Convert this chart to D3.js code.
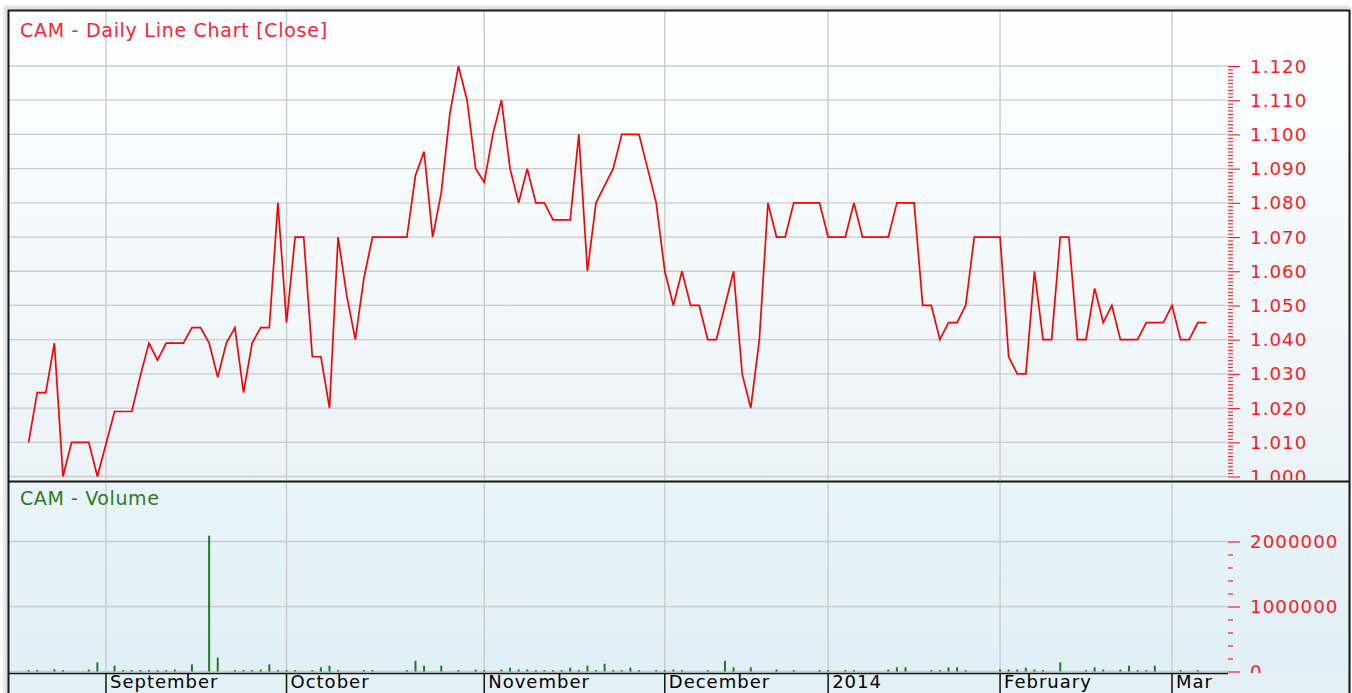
<!DOCTYPE html>
<html><head><meta charset="utf-8">
<script src="https://cdn.jsdelivr.net/npm/d3@7"></script>
<style>
html,body{margin:0;padding:0;background:#ffffff;}
svg{display:block;}
</style>
</head>
<body>
<svg id="chart" width="1352" height="693"></svg>
<script>
// ---------- DATA ----------
const closeValues = [
  1.010, 1.0245, 1.0245, 1.039, 1.000, 1.010, 1.010, 1.010, 1.000, 1.0095,
  1.019, 1.019, 1.019, 1.0295, 1.039, 1.034, 1.039, 1.039, 1.039, 1.0435,
  1.0435, 1.039, 1.029, 1.039, 1.0435, 1.0245, 1.039, 1.0435, 1.0435, 1.080,
  1.045, 1.070, 1.070, 1.035, 1.035, 1.020, 1.070, 1.053, 1.040, 1.058,
  1.070, 1.070, 1.070, 1.070, 1.070, 1.088, 1.095, 1.070, 1.083, 1.106,
  1.120, 1.110, 1.090, 1.086, 1.100, 1.110, 1.090, 1.080, 1.090, 1.080,
  1.080, 1.075, 1.075, 1.075, 1.100, 1.060, 1.080, 1.085, 1.090, 1.100,
  1.100, 1.100, 1.090, 1.080, 1.060, 1.050, 1.060, 1.050, 1.050, 1.040,
  1.040, 1.050, 1.060, 1.030, 1.020, 1.040, 1.080, 1.070, 1.070, 1.080,
  1.080, 1.080, 1.080, 1.070, 1.070, 1.070, 1.080, 1.070, 1.070, 1.070,
  1.070, 1.080, 1.080, 1.080, 1.050, 1.050, 1.040, 1.045, 1.045, 1.050,
  1.070, 1.070, 1.070, 1.070, 1.035, 1.030, 1.030, 1.060, 1.040, 1.040,
  1.070, 1.070, 1.040, 1.040, 1.055, 1.045, 1.050, 1.040, 1.040, 1.040,
  1.045, 1.045, 1.045, 1.050, 1.040, 1.040, 1.045, 1.045
];
const volumeValues = [
  20000, 20000, 0, 35000, 20000, 0, 0, 30000, 140000, 0,
  90000, 20000, 20000, 20000, 20000, 20000, 20000, 30000, 0, 110000,
  0, 2090000, 215000, 0, 20000, 20000, 20000, 30000, 110000, 20000,
  20000, 20000, 0, 20000, 65000, 90000, 20000, 0, 0, 20000,
  20000, 0, 0, 0, 20000, 165000, 90000, 0, 90000, 0,
  20000, 0, 30000, 20000, 0, 30000, 60000, 30000, 30000, 20000,
  20000, 20000, 20000, 60000, 20000, 90000, 20000, 120000, 20000, 20000,
  60000, 20000, 0, 20000, 20000, 30000, 20000, 0, 0, 20000,
  0, 165000, 65000, 0, 65000, 0, 0, 30000, 0, 20000,
  0, 0, 20000, 20000, 0, 20000, 20000, 0, 0, 0,
  30000, 65000, 65000, 0, 0, 20000, 20000, 65000, 65000, 20000,
  0, 0, 0, 30000, 30000, 30000, 60000, 30000, 20000, 0,
  140000, 0, 0, 20000, 65000, 30000, 0, 30000, 90000, 20000,
  20000, 90000, 0, 0, 20000, 0, 20000, 0
];
const monthLabels = ["September", "October", "November", "December", "2014", "February", "Mar"];
const monthStartIndex = [9, 30, 53, 74, 93, 113, 133];
const priceTickLabels = ["1.000","1.010","1.020","1.030","1.040","1.050","1.060","1.070","1.080","1.090","1.100","1.110","1.120"];
const volumeTickLabels = ["0", "1000000", "2000000"];
const priceTitle = "CAM - Daily Line Chart [Close]";
const volumeTitle = "CAM - Volume";

// ---------- LAYOUT ----------
const L = 9, R = 1349, plotR = 1228;
const pTop = 11, pBot = 481, vTop = 483, vBot = 673, H = 693;
const gridColor = "#cbcbcb";
const axisRed = "#ff1a1a";

const svg = d3.select("#chart");
const defs = svg.append("defs");
const gP = defs.append("linearGradient").attr("id","gPrice").attr("x1",0).attr("x2",0).attr("y1",0).attr("y2",1);
gP.append("stop").attr("offset","0%").attr("stop-color","#ffffff");
gP.append("stop").attr("offset","100%").attr("stop-color","#eaf3f8");
const gV = defs.append("linearGradient").attr("id","gVol").attr("x1",0).attr("x2",0).attr("y1",0).attr("y2",1);
gV.append("stop").attr("offset","0%").attr("stop-color","#e8f4f9");
gV.append("stop").attr("offset","100%").attr("stop-color","#e0f0f6");
defs.append("clipPath").attr("id","clipP").append("rect").attr("x",L).attr("y",pTop).attr("width",R-L).attr("height",pBot-pTop-1);
defs.append("clipPath").attr("id","clipV").append("rect").attr("x",L).attr("y",vTop).attr("width",R-L).attr("height",vBot-vTop);

// shadow
svg.append("rect").attr("x",3).attr("y",5).attr("width",R-3).attr("height",H).attr("fill","#ececec");
svg.append("rect").attr("x",5).attr("y",7).attr("width",R-3).attr("height",H).attr("fill","#dedede");

// backgrounds
svg.append("rect").attr("x",L).attr("y",pTop).attr("width",R-L).attr("height",pBot-pTop).attr("fill","url(#gPrice)");
svg.append("rect").attr("x",L).attr("y",vTop).attr("width",R-L).attr("height",vBot-vTop).attr("fill","url(#gVol)");
svg.append("rect").attr("x",L).attr("y",vBot).attr("width",R-L).attr("height",H-vBot).attr("fill","#e3f1f7");

// ---------- SCALES ----------
const x = d3.scaleLinear().domain([0, closeValues.length - 1]).range([28.6, 1206.4]);
const yP = d3.scaleLinear().domain([1.0, 1.12]).range([476.5, 66]);
const yV = d3.scaleLinear().domain([0, 2000000]).range([671.5, 541.5]);

// ---------- PRICE PANEL ----------
const pp = svg.append("g").attr("clip-path","url(#clipP)");
const priceMajor = priceTickLabels.map(Number);
pp.selectAll("line.hg").data(priceMajor).join("line")
  .attr("x1",L).attr("x2",plotR).attr("y1",d=>yP(d)).attr("y2",d=>yP(d))
  .attr("stroke",gridColor).attr("stroke-width",1.3);
pp.selectAll("line.vg").data(monthStartIndex).join("line")
  .attr("x1",d=>x(d)).attr("x2",d=>x(d)).attr("y1",pTop).attr("y2",pBot)
  .attr("stroke",gridColor).attr("stroke-width",1.4);

pp.append("path").datum(closeValues)
  .attr("d", d3.line().x((d,i)=>x(i)).y(d=>yP(d)))
  .attr("fill","none").attr("stroke","#ff0000").attr("stroke-width",1.7).attr("stroke-linejoin","miter");

// price axis (right)
const pAxis = d3.axisRight(yP)
  .tickValues(d3.range(1000, 1121).map(v=>v/1000))
  .tickSize(5).tickFormat("");
const pAxG = pp.append("g").attr("transform",`translate(${plotR},0)`).call(pAxis);
pAxG.select(".domain").remove();
pAxG.selectAll(".tick line").attr("stroke",axisRed).attr("stroke-width",1.1)
  .attr("x2", d => (Math.round(d*1000) % 10 === 0) ? 12 : 5);
pp.selectAll("text.pl").data(priceTickLabels).join("text")
  .attr("x",1250).attr("y",d=>yP(+d)).attr("dy","0.36em")
  .attr("fill",axisRed).attr("font-family","DejaVu Sans, Verdana, sans-serif")
  .attr("font-size",18.3).attr("letter-spacing","1px").text(d=>d);

svg.append("text").attr("x",20).attr("y",36.5).attr("fill","#ff2233")
  .attr("font-family","DejaVu Sans, Verdana, sans-serif").attr("font-size",19)
  .attr("letter-spacing","0.72px").text(priceTitle);

// ---------- VOLUME PANEL ----------
const vp = svg.append("g").attr("clip-path","url(#clipV)");
vp.selectAll("line.hg").data(volumeTickLabels.map(Number)).join("line")
  .attr("x1",L).attr("x2",plotR).attr("y1",d=>yV(d)).attr("y2",d=>yV(d))
  .attr("stroke",gridColor).attr("stroke-width",1.3);
vp.selectAll("line.vg").data(monthStartIndex).join("line")
  .attr("x1",d=>x(d)).attr("x2",d=>x(d)).attr("y1",vTop).attr("y2",vBot)
  .attr("stroke",gridColor).attr("stroke-width",1.4);

vp.selectAll("rect.bar").data(volumeValues).join("rect")
  .attr("x",(d,i)=>x(i)-1).attr("width",2)
  .attr("y",d=>yV(d)).attr("height",d=>yV(0)-yV(d))
  .attr("fill","#1f7d1f");

const vAxis = d3.axisRight(yV).tickValues(d3.range(0, 2000001, 200000)).tickSize(5).tickFormat("");
const vAxG = vp.append("g").attr("transform",`translate(${plotR},0)`).call(vAxis);
vAxG.select(".domain").remove();
vAxG.selectAll(".tick line").attr("stroke",axisRed).attr("stroke-width",1.2)
  .attr("x2", d => (d % 1000000 === 0) ? 12 : 5);
vp.selectAll("text.vl").data(volumeTickLabels).join("text")
  .attr("x",1250).attr("y",d=>yV(+d)).attr("dy","0.36em")
  .attr("fill",axisRed).attr("font-family","DejaVu Sans, Verdana, sans-serif")
  .attr("font-size",18.3).attr("letter-spacing","1px").text(d=>d);

svg.append("text").attr("x",20).attr("y",505).attr("fill","#2c7a22")
  .attr("font-family","DejaVu Sans, Verdana, sans-serif").attr("font-size",19)
  .attr("letter-spacing","0.6px").text(volumeTitle);

// ---------- TIME AXIS ----------
svg.append("line").attr("x1",L).attr("x2",plotR).attr("y1",vBot+0.5).attr("y2",vBot+0.5)
  .attr("stroke","#111").attr("stroke-width",1.5);
svg.selectAll("line.ms").data(monthStartIndex).join("line")
  .attr("x1",d=>x(d)).attr("x2",d=>x(d)).attr("y1",vBot).attr("y2",H)
  .attr("stroke","#111").attr("stroke-width",1.5);
svg.selectAll("text.ml").data(monthLabels).join("text")
  .attr("x",(d,i)=>x(monthStartIndex[i])+4).attr("y",688.4)
  .attr("fill","#000").attr("font-family","DejaVu Sans, Verdana, sans-serif")
  .attr("font-size",18).attr("letter-spacing","1px").text(d=>d);

// ---------- BORDERS ----------
svg.append("line").attr("x1",L-0.5).attr("x2",L-0.5).attr("y1",pTop-1).attr("y2",H).attr("stroke","#1a1a1a").attr("stroke-width",2);
svg.append("line").attr("x1",L-1).attr("x2",R+1).attr("y1",pTop-0.5).attr("y2",pTop-0.5).attr("stroke","#1a1a1a").attr("stroke-width",2);
svg.append("line").attr("x1",R+0.5).attr("x2",R+0.5).attr("y1",pTop-1).attr("y2",H).attr("stroke","#1a1a1a").attr("stroke-width",2);
svg.append("line").attr("x1",L).attr("x2",R).attr("y1",pBot+0.5).attr("y2",pBot+0.5).attr("stroke","#1a1a1a").attr("stroke-width",2.2);
</script>
</body></html>
